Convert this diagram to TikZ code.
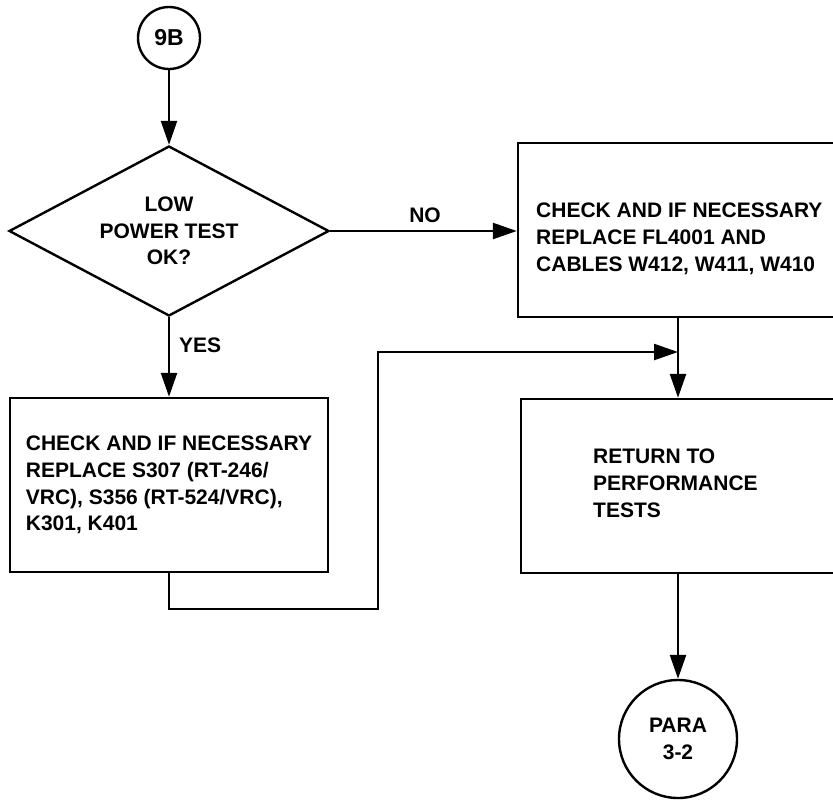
\documentclass[tikz,border=0pt]{standalone}
\usepackage{fontspec}
\setmainfont{Liberation Sans}
\usetikzlibrary{shapes.geometric,arrows.meta}
\begin{document}
\begin{tikzpicture}[x=1pt,y=-1pt,
  line width=2.4pt,
  every node/.style={font=\fontsize{21}{26.7}\selectfont\bfseries},
  arr/.style={-{Triangle[length=24pt,width=16pt]}},
  circ/.style={draw,circle,inner sep=0pt},
  boxs/.style={draw,rectangle,inner sep=0pt},
  txt/.style={align=left,inner sep=0pt,anchor=north west},
  lbl/.style={inner sep=0pt}]
\useasboundingbox (0,0) rectangle (833,804);
% start connector
\node[circ,minimum size=62pt,font=\fontsize{23}{27}\selectfont\bfseries] (c9b) at (169,38) {9B};
% decision
\node[draw,diamond,aspect=1.88,minimum width=320pt,minimum height=170pt,inner sep=0pt,align=center] (dec) at (169,231) {LOW\\POWER TEST\\OK?};
% right top box
\node[boxs,minimum width=332pt,minimum height=174pt] (rbox1) at (684,230) {};
\node[txt] (rtxt1) at (535,202) {CHECK AND IF NECESSARY\\REPLACE FL4001 AND\\CABLES W412, W411, W410};
% left box
\node[boxs,minimum width=318pt,minimum height=174pt,align=left] (lbox) at (169,485) {CHECK AND IF NECESSARY\\REPLACE S307 (RT-246/\\VRC), S356 (RT-524/VRC),\\K301, K401};
% right lower box
\node[boxs,minimum width=330pt,minimum height=174pt] (rbox2) at (686,486) {};
\node[txt] (rtxt2) at (592,448) {RETURN TO\\PERFORMANCE\\TESTS};
% end connector
\node[circ,minimum size=118pt,align=center] (para) at (678,739) {PARA\\3-2};
% labels
\node[lbl] (no) at (425,215) {NO};
\node[lbl,anchor=west] (yes) at (178,345) {YES};
% junction coordinates
\coordinate (j) at (678,352);
\coordinate (fb1) at (378,609);
\coordinate (fb2) at (378,352);
% connectors
\draw[arr] (c9b) -- (dec.north);
\draw[arr] (dec.east) -- (rbox1.west |- dec.east);
\draw[arr] (dec.south) -- (lbox.north);
\draw (rbox1.south -| j) -- (j);
\draw[arr] (j) -- (rbox2.north -| j);
\draw[arr] (lbox.south) |- (fb1) -- (fb2) -- (j);
\draw[arr] (rbox2.south -| para.north) -- (para.north);
\end{tikzpicture}
\end{document}
